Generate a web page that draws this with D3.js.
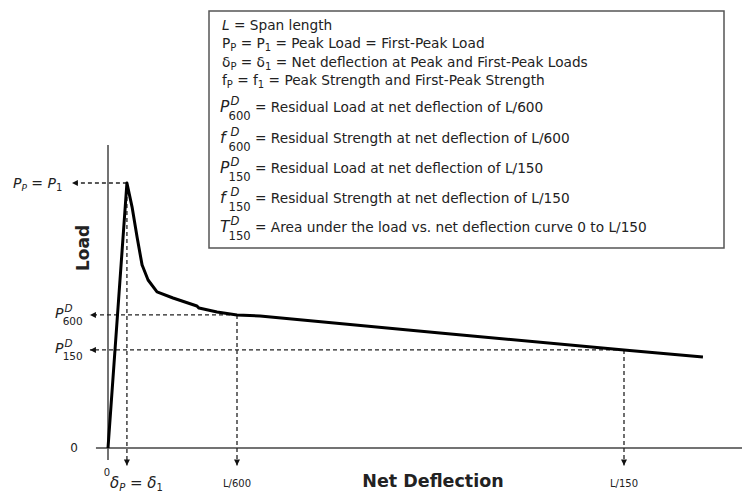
<!DOCTYPE html>
<html>
<head>
<meta charset="utf-8">
<script src="https://cdn.jsdelivr.net/npm/d3@7"></script>
<style>
  body { margin: 0; background: #fff; }
  svg { display: block; }
  text { font-family: "DejaVu Sans", Verdana, sans-serif; fill: #222; }
</style>
</head>
<body>
<svg id="chart" width="742" height="495"></svg>
<script>
// net deflection (mm, span L = 450) and load (fraction of peak)
const deflection = [0, 0.110, 0.140, 0.169, 0.198, 0.203, 0.233, 0.285, 0.378, 0.517, 0.529, 0.634, 0.75, 0.884, 1.93, 3.0, 3.459];
const load       = [0, 1.000, 0.909, 0.796, 0.691, 0.683, 0.634, 0.589, 0.566, 0.536, 0.528, 0.513, 0.502, 0.498, 0.434, 0.370, 0.343];

// reference points: peak, L/600, L/150
const refX = [0.110, 0.75, 3.0];
const refY = [1.0, 0.502, 0.370];
const refXLabels = ["", "L/600", "L/150"];

const legendLines = [
  [["i", "L"], ["", " = Span length"]],
  [["", "P"], ["sub", "P"], ["", " = P"], ["sub", "1"], ["", " = Peak Load = First-Peak Load"]],
  [["", "δ"], ["sub", "P"], ["", " = δ"], ["sub", "1"], ["", " = Net deflection at Peak and First-Peak Loads"]],
  [["", "f"], ["sub", "P"], ["", " = f"], ["sub", "1"], ["", " = Peak Strength and First-Peak Strength"]],
  ["P", "600", "Residual Load at net deflection of L/600"],
  ["f", "600", "Residual Strength at net deflection of L/600"],
  ["P", "150", "Residual Load at net deflection of L/150"],
  ["f", "150", "Residual Strength at net deflection of L/150"],
  ["T", "150", "Area under the load vs. net deflection curve 0 to L/150"]
];

let svg = d3.select('#chart');

let x = d3.scaleLinear().domain([0, 3]).range([108, 624]);
let y = d3.scaleLinear().domain([0, 1]).range([448, 183]);

// arrow marker
let defs = svg.append('defs');
defs.append('marker')
  .attr('id', 'arrow')
  .attr('viewBox', '0 0 10 10')
  .attr('refX', 10).attr('refY', 5)
  .attr('markerWidth', 6).attr('markerHeight', 6)
  .attr('markerUnits', 'userSpaceOnUse')
  .attr('orient', 'auto')
  .append('path')
  .attr('d', 'M0,0 L10,5 L0,10 z')
  .attr('fill', '#111');

// axes (plain lines, no ticks)
svg.append('line')
  .attr('x1', x(-0.07)).attr('x2', 742)
  .attr('y1', y(0)).attr('y2', y(0))
  .attr('stroke', '#444').attr('stroke-width', 1.5);
svg.append('line')
  .attr('x1', x(0)).attr('x2', x(0))
  .attr('y1', y(1.143)).attr('y2', y(-0.045))
  .attr('stroke', '#444').attr('stroke-width', 1.5);

// dashed guides
let guides = svg.append('g')
  .attr('stroke', '#222')
  .attr('stroke-width', 1.3)
  .attr('stroke-dasharray', '4,3')
  .attr('fill', 'none');

const hStart = [x(-0.21), x(-0.105), x(-0.105)];
refX.forEach((rx, i) => {
  guides.append('line')
    .attr('x1', x(rx)).attr('y1', y(refY[i]))
    .attr('x2', hStart[i]).attr('y2', y(refY[i]))
    .attr('marker-end', 'url(#arrow)');
  guides.append('line')
    .attr('x1', x(rx)).attr('y1', y(refY[i]))
    .attr('x2', x(rx)).attr('y2', y(-0.066))
    .attr('marker-end', 'url(#arrow)');
});

// the curve
let line = d3.line()
  .x((d, i) => x(deflection[i]))
  .y((d, i) => y(load[i]));

svg.append('path')
  .datum(load)
  .attr('d', line)
  .attr('fill', 'none')
  .attr('stroke', '#000')
  .attr('stroke-width', 3)
  .attr('stroke-linejoin', 'round');

// x reference labels
refX.forEach((rx, i) => {
  if (refXLabels[i] == "") return;
  svg.append('text')
    .attr('x', x(rx)).attr('y', 487)
    .attr('text-anchor', 'middle')
    .style('font-size', '10px')
    .text(refXLabels[i]);
});

// zero labels
svg.append('text').attr('x', 107).attr('y', 476).attr('text-anchor', 'middle')
  .style('font-size', '10px').text('0');
svg.append('text').attr('x', 74).attr('y', 452).attr('text-anchor', 'middle')
  .style('font-size', '12px').text('0');

// delta_P = delta_1
let dl = svg.append('text').attr('x', 110).attr('y', 488).style('font-size', '15px');
dl.append('tspan').style('font-style', 'italic').text('δ');
dl.append('tspan').attr('dy', 3).style('font-size', '10px').style('font-style', 'italic').text('P');
dl.append('tspan').attr('dy', -3).text(' = ');
dl.append('tspan').style('font-style', 'italic').text('δ');
dl.append('tspan').attr('dy', 3).style('font-size', '10px').text('1');

// P_P = P_1
let pl = svg.append('text').attr('x', 13).attr('y', 188).style('font-size', '14px');
pl.append('tspan').style('font-style', 'italic').text('P');
pl.append('tspan').attr('dy', 3).style('font-size', '9px').style('font-style', 'italic').text('P');
pl.append('tspan').attr('dy', -3).text(' = ');
pl.append('tspan').style('font-style', 'italic').text('P');
pl.append('tspan').attr('dy', 3).style('font-size', '10px').text('1');

// residual labels: letter with D above and the deflection below
function resLabel(g, px, py, letter, sub, size) {
  let t = g.append('text').attr('x', px).attr('y', py).style('font-size', size + 'px');
  t.append('tspan').style('font-style', 'italic').text(letter);
  t.append('tspan').attr('x', px + size * 0.68).attr('dy', -size * 0.45)
    .style('font-size', (size * 0.75) + 'px')
    .style('font-style', 'italic').text('D');
  t.append('tspan').attr('x', px + size * 0.55).attr('dy', size * 0.95)
    .style('font-size', (size * 0.75) + 'px').text(sub);
  return t;
}
resLabel(svg, 55, y(refY[1]) + 3, 'P', '600', 14);
resLabel(svg, 55, y(refY[2]) + 3, 'P', '150', 14);

// axis titles
svg.append('text')
  .attr('transform', 'translate(89,248) rotate(-90)')
  .attr('text-anchor', 'middle')
  .style('font-size', '17px').style('font-weight', 'bold')
  .text('Load');
svg.append('text')
  .attr('x', 433).attr('y', 487)
  .attr('text-anchor', 'middle')
  .style('font-size', '17.5px').style('font-weight', 'bold')
  .text('Net Deflection');

// legend box
let box = svg.append('g');
box.append('rect')
  .attr('x', 209).attr('y', 11).attr('width', 515).attr('height', 237)
  .attr('fill', '#fff').attr('stroke', '#555').attr('stroke-width', 1.5);

const lineY = [30, 48, 67, 85, 112, 143, 173, 203, 232];
const fs = 13.7;
legendLines.forEach((ln, i) => {
  if (i < 4) {
    let t = box.append('text').attr('x', 222).attr('y', lineY[i]).style('font-size', fs + 'px');
    let down = false;
    ln.forEach(p => {
      let ts = t.append('tspan').text(p[1]);
      if (p[0] == 'i') ts.style('font-style', 'italic');
      if (p[0] == 'sub') { ts.attr('dy', 3).style('font-size', '10px'); down = true; }
      else if (down) { ts.attr('dy', -3); down = false; }
    });
  } else {
    let t = resLabel(box, 220, lineY[i], ln[0], ln[1], 15.5);
    t.append('tspan').attr('dy', -15.5 * 0.5).style('font-size', fs + 'px').text(' = ' + ln[2]);
  }
});
</script>
</body>
</html>
